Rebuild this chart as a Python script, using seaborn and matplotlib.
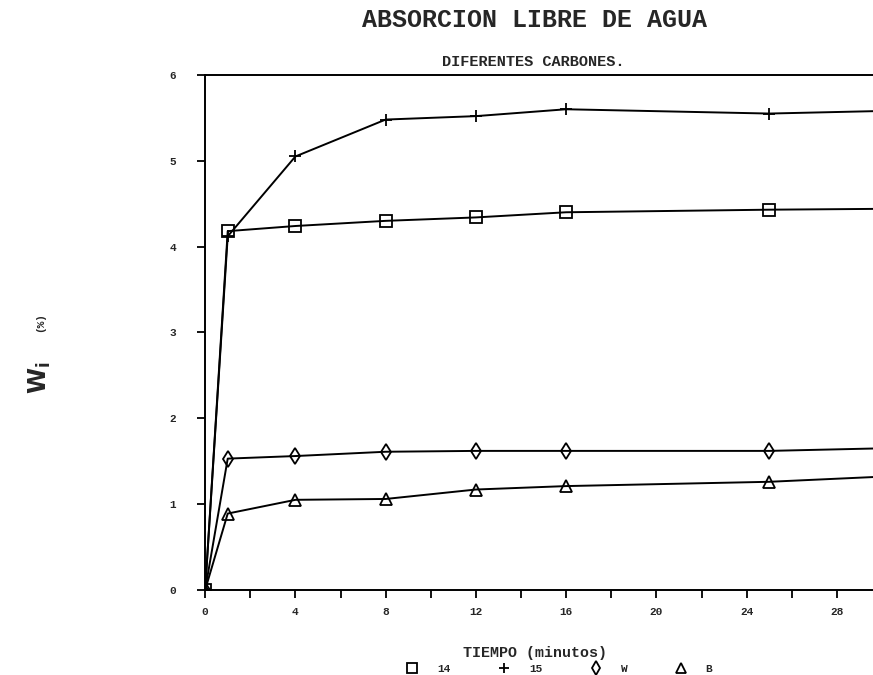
import matplotlib
matplotlib.use("Agg")
import matplotlib.pyplot as plt
from matplotlib.lines import Line2D
from matplotlib.ticker import MultipleLocator
import seaborn as sns
import pandas as pd

# ---- data ----
tiempo = [0, 1, 4, 8, 12, 16, 25, 30]
serie_14 = [0, 4.18, 4.24, 4.30, 4.34, 4.40, 4.43, 4.44]
serie_15 = [0, 4.12, 5.05, 5.48, 5.52, 5.60, 5.55, 5.58]
serie_W = [0, 1.53, 1.56, 1.61, 1.62, 1.62, 1.62, 1.65]
serie_B = [0, 0.89, 1.05, 1.06, 1.17, 1.21, 1.26, 1.32]
series_names = ["14", "15", "W", "B"]
x_ticks = [0, 4, 8, 12, 16, 20, 24, 28]
y_ticks = [0, 1, 2, 3, 4, 5, 6]

title = "ABSORCION LIBRE DE AGUA"
subtitle = "DIFERENTES CARBONES."
xlabel = "TIEMPO (minutos)"

sns.set_style("ticks")
plt.rcParams["font.family"] = ["Liberation Mono", "DejaVu Sans Mono"]
plt.rcParams["font.weight"] = "bold"

rows = []
for name, vals in zip(series_names, [serie_14, serie_15, serie_W, serie_B]):
    for t, v in zip(tiempo, vals):
        rows.append({"t": t, "w": v, "serie": name})
df = pd.DataFrame(rows)

markers = {"14": "s", "15": "+", "W": "d", "B": "^"}

fig = plt.figure(figsize=(8.73, 6.75), dpi=100)
ax = fig.add_axes([0.235, 0.126, 0.765, 0.763])

for name in series_names:
    sub = df[df["serie"] == name]
    sns.lineplot(data=sub, x="t", y="w", marker=markers[name],
                 color="black", linewidth=1.4, markersize=8,
                 markerfacecolor="none", markeredgecolor="black",
                 markeredgewidth=1.3, legend=False, ax=ax, sort=False)

ax.set_xlim(0, 29.6)
ax.set_ylim(0, 6)
ax.set_xticks(x_ticks)
ax.set_yticks(y_ticks)
ax.xaxis.set_minor_locator(MultipleLocator(2))
ax.tick_params(axis="both", which="both", direction="out", length=6,
               width=1.3, color="black", labelsize=8, pad=6.5)
ax.tick_params(axis="y", pad=15)
for lbl in ax.get_xticklabels() + ax.get_yticklabels():
    lbl.set_fontweight("bold")

for side in ["left", "bottom", "top"]:
    ax.spines[side].set_linewidth(1.4)
    ax.spines[side].set_color("black")
ax.spines["right"].set_visible(False)
ax.set_xlabel("")
ax.set_ylabel("")

fig.text(0.6125, 0.970, title, ha="center", va="center", fontsize=18,
         fontweight="bold")
fig.text(0.611, 0.908, subtitle, ha="center", va="center", fontsize=11,
         fontweight="bold")
fig.text(0.613, 0.033, xlabel, ha="center", va="center", fontsize=10.8,
         fontweight="bold")

# y label (rotated)
fig.text(0.046, 0.44, r"$\mathbf{W_i}$", rotation=90, ha="center",
         va="center", fontsize=17)
fig.text(0.046, 0.523, "(%)", rotation=90, ha="center", va="center",
         fontsize=8, fontweight="bold")

handles = [Line2D([], [], linestyle="none", marker=markers[n], color="black",
                  markerfacecolor="none", markersize=7, markeredgewidth=1.3)
           for n in series_names]
fig.legend(handles, series_names, ncol=4, loc="center",
           bbox_to_anchor=(0.641, 0.009), frameon=False,
           handlelength=1.0, handletextpad=1.75, columnspacing=4.3,
           borderpad=0, prop={"weight": "bold", "size": 8})

fig.savefig("out.png", dpi=100)
